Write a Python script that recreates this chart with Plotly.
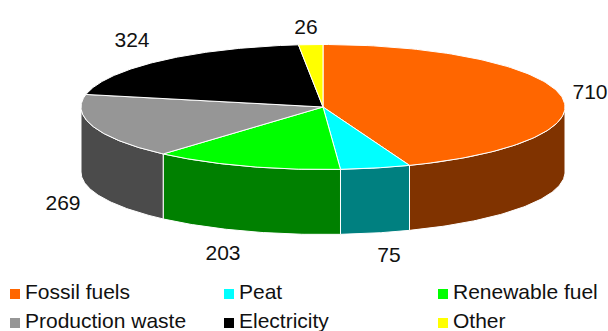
import numpy as np
import plotly.graph_objects as go

categories = ["Fossil fuels", "Peat", "Renewable fuel", "Production waste", "Electricity", "Other"]
values = [710, 75, 203, 269, 324, 26]
top_colors = ["#FF6600", "#00FFFF", "#00FF00", "#969696", "#000000", "#FFFF00"]
wall_colors = ["#803300", "#008080", "#008000", "#4B4B4B", "#000000", "#808000"]

CX, CY, A, B, DEPTH = 323, 107, 242, 62.5, 65


def rim(t_deg, dy=0):
    t = np.radians(t_deg)
    return CX + A * np.sin(t), CY + dy - B * np.cos(t)


fig = go.Figure()
edges = np.concatenate([[0], np.cumsum(values)]) / sum(values) * 360

# Side walls: only the front half of the pie is visible
for i, name in enumerate(categories):
    lo, hi = max(edges[i], 90), min(edges[i + 1], 270)
    if hi <= lo:
        continue
    t = np.linspace(lo, hi, 80)
    x1, y1 = rim(t)
    x2, y2 = rim(t[::-1], DEPTH)
    fig.add_trace(go.Scatter(
        x=np.concatenate([x1, x2, x1[:1]]), y=np.concatenate([y1, y2, y1[:1]]),
        mode="lines", fill="toself", fillcolor=wall_colors[i],
        line=dict(color="white", width=1), name=name + " side",
        showlegend=False, hoverinfo="skip"))

# Top faces
for i, name in enumerate(categories):
    t = np.linspace(edges[i], edges[i + 1], 120)
    x1, y1 = rim(t)
    fig.add_trace(go.Scatter(
        x=np.concatenate([[CX], x1, [CX]]), y=np.concatenate([[CY], y1, [CY]]),
        mode="lines", fill="toself", fillcolor=top_colors[i],
        line=dict(color="white", width=1), name=name,
        showlegend=False, hoverinfo="name"))

# Data labels
label_x = [590, 389, 223, 63, 132, 306]
label_y = [94, 257, 255, 205, 42, 29]
fig.add_trace(go.Scatter(
    x=label_x, y=label_y, mode="text", text=[str(v) for v in values],
    textposition="middle center",
    textfont=dict(family="Liberation Sans", size=21, color="#111111"),
    showlegend=False, hoverinfo="skip"))

# Legend
legend_x = [15, 229, 443, 15, 229, 443]
legend_y = [294, 294, 294, 323, 323, 323]
legend_text_x = [25, 239, 453, 25, 239, 453]
legend_text_y = [294, 294, 294, 323, 323, 323]
fig.add_trace(go.Scatter(
    x=legend_x, y=legend_y, mode="markers",
    marker=dict(symbol="square", size=10, color=top_colors, line=dict(width=0)),
    showlegend=False, hoverinfo="skip"))
fig.add_trace(go.Scatter(
    x=legend_text_x, y=legend_text_y, mode="text", text=categories,
    textposition="middle right",
    textfont=dict(family="Liberation Sans", size=21, color="#111111"),
    showlegend=False, hoverinfo="skip", cliponaxis=False))

fig.update_layout(
    width=608, height=331, margin=dict(l=0, r=0, t=0, b=0),
    paper_bgcolor="white", plot_bgcolor="white", showlegend=False,
    xaxis=dict(range=[0, 608], visible=False, fixedrange=True),
    yaxis=dict(range=[331, 0], visible=False, fixedrange=True),
)
fig.write_html("out.html", config=dict(displayModeBar=False, responsive=False),
               post_script="document.body.style.margin='0';document.body.style.overflow='hidden';")
